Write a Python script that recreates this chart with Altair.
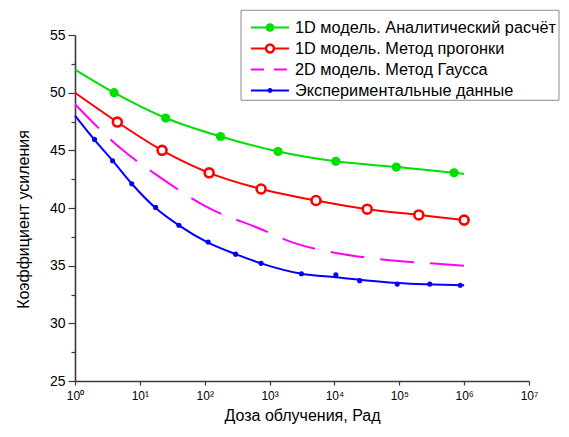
import altair as alt
import pandas as pd

# ---------------- data ----------------
SERIES = [
    "1D модель. Аналитический расчёт",
    "1D модель. Метод прогонки",
    "2D модель. Метод Гаусса",
    "Экспериментальные данные",
]
COLORS = ["#00e000", "#ff0000", "#ff00ff", "#0000ff"]

green_line_dose = [1, 4, 25, 175, 1350, 10500, 90000, 700000, 1000000]
green_line_gain = [52.0, 50.0, 47.8, 46.2, 44.9, 44.05, 43.55, 43.05, 42.95]
green_mark_dose = [4, 25, 175, 1350, 10500, 90000, 700000]
green_mark_gain = [50.0, 47.8, 46.2, 44.9, 44.05, 43.55, 43.05]

red_line_dose = [1, 4.5, 22, 117, 740, 5200, 32000, 200000, 1000000]
red_line_gain = [50.0, 47.45, 45.0, 43.05, 41.65, 40.65, 39.9, 39.4, 38.95]
red_mark_dose = [4.5, 22, 117, 740, 5200, 32000, 200000, 1000000]
red_mark_gain = [47.45, 45.0, 43.05, 41.65, 40.65, 39.9, 39.4, 38.95]

magenta_line_dose = [1, 5.5, 20, 107, 710, 2300, 8500, 45000, 300000, 1000000]
magenta_line_gain = [49.0, 45.0, 42.7, 40.1, 38.2, 37.0, 36.2, 35.6, 35.2, 35.0]

blue_line_dose = [1, 2, 3.8, 7.5, 17.5, 40, 113, 300, 740, 3100, 10500, 93000, 1000000]
blue_line_gain = [48.0, 45.9, 44.1, 42.1, 40.0, 38.5, 37.0, 36.0, 35.2, 34.3, 34.0, 33.5, 33.3]
blue_mark_dose = [2, 3.8, 7.5, 17.5, 40, 113, 300, 740, 3100, 10500, 24500, 93000, 295000, 870000]
blue_mark_gain = [45.95, 44.1, 42.1, 40.05, 38.5, 37.05, 36.0, 35.2, 34.3, 34.2, 33.7, 33.4, 33.4, 33.3]

X_TICKS = [1, 10, 100, 1000, 10000, 100000, 1000000, 10000000]
X_MINOR = [m * 10 ** k for k in range(7) for m in range(2, 10)]
Y_TICKS = [25, 30, 35, 40, 45, 50, 55]
Y_MINOR = [27.5, 32.5, 37.5, 42.5, 47.5, 52.5]

X_TITLE = "Доза облучения, Рад"
Y_TITLE = "Коэффициент усиления"

# ---------------- tables ----------------
def frame(name, xs, ys):
    return pd.DataFrame({"series": name, "dose": xs, "gain": ys})

solid_df = pd.concat([
    frame(SERIES[0], green_line_dose, green_line_gain),
    frame(SERIES[1], red_line_dose, red_line_gain),
    frame(SERIES[3], blue_line_dose, blue_line_gain),
])
dashed_df = frame(SERIES[2], magenta_line_dose, magenta_line_gain)
green_pts = frame(SERIES[0], green_mark_dose, green_mark_gain)
red_pts = frame(SERIES[1], red_mark_dose, red_mark_gain)
blue_pts = frame(SERIES[3], blue_mark_dose, blue_mark_gain)
legend_df = pd.DataFrame({"series": SERIES, "row": [0, 1, 2, 3]})

# ---------------- styling ----------------
W, H = 454, 346
FONT = "Liberation Sans"
AX = "#3a3a3a"

xscale = alt.Scale(type="log", domain=[1, 10000000], nice=False)
yscale = alt.Scale(domain=[25, 55], nice=False, zero=False)

x_main_axis = alt.Axis(
    values=X_TICKS, title=X_TITLE, orient="bottom", grid=False,
    labelExpr="'10' + ['⁰','¹','²','³','⁴','⁵','⁶','⁷'][round(log(datum.value) / LN10)]",
    labelFlush=False, labelOverlap=False, tickSize=4, labelPadding=5,
    labelFontSize=12, titleFontSize=16, titlePadding=6,
    domainColor=AX, domainWidth=1.6, tickColor=AX, tickWidth=1.2,
    labelColor="black", titleColor="black", titleFontWeight="normal",
)
y_main_axis = alt.Axis(
    values=Y_TICKS, title=Y_TITLE, orient="left", grid=False,
    tickSize=7, labelPadding=3, labelFontSize=14, titleFontSize=16, titlePadding=18,
    titleY=184,
    domainColor=AX, domainWidth=1.6, tickColor=AX, tickWidth=1.2,
    labelColor="black", titleColor="black", titleFontWeight="normal",
)
x_minor_axis = alt.Axis(
    values=X_MINOR, orient="top", position=H, labels=False, domain=False, grid=False,
    tickSize=4, tickColor=AX, tickWidth=1.2, title="",
)
y_minor_axis = alt.Axis(
    values=Y_MINOR, orient="left", labels=False, domain=False, grid=False,
    tickSize=4, tickColor=AX, tickWidth=1.2, title="",
)

# legend layout (pixels, relative to the plot area)
BOX_X0, BOX_X1, BOX_Y0, BOX_Y1 = 166, 484, -24.7, 65.3
SYM_X0, SYM_X1, SYM_CX, TXT_X = 176, 214, 195, 220
row_scale = alt.Scale(type="point", domain=[0, 1, 2, 3], range=[-7.5, 55.5], padding=0)
row_y = alt.Y("row:O", scale=row_scale, axis=None)

# ---------------- data layers ----------------
lines = alt.Chart(solid_df).mark_line(strokeWidth=2, interpolate="monotone").encode(
    x=alt.X("dose:Q", scale=xscale, axis=x_main_axis),
    y=alt.Y("gain:Q", scale=yscale, axis=y_main_axis),
    stroke=alt.Stroke("series:N", scale=alt.Scale(domain=SERIES, range=COLORS), legend=None),
)

dashed = alt.Chart(dashed_df).mark_line(
    strokeWidth=2, interpolate="monotone", strokeDash=[34, 16], color=COLORS[2]
).encode(
    x=alt.X("dose:Q", scale=xscale, axis=None),
    y=alt.Y("gain:Q", scale=yscale, axis=None),
)

green_marks = alt.Chart(green_pts).mark_point(
    filled=True, opacity=1, shape="circle", size=85, color=COLORS[0]
).encode(
    x=alt.X("dose:Q", scale=xscale, axis=x_minor_axis),
    y=alt.Y("gain:Q", scale=yscale, axis=y_minor_axis),
)

red_marks = alt.Chart(red_pts).mark_point(
    filled=False, opacity=1, shape="circle", size=80, strokeWidth=2.6,
    stroke=COLORS[1], fill="white",
).encode(
    x=alt.X("dose:Q", scale=xscale, axis=None),
    y=alt.Y("gain:Q", scale=yscale, axis=None),
)

blue_marks = alt.Chart(blue_pts).mark_point(
    filled=True, opacity=1, shape="circle", size=26, color=COLORS[3]
).encode(
    x=alt.X("dose:Q", scale=xscale, axis=None),
    y=alt.Y("gain:Q", scale=yscale, axis=None),
)

# ---------------- legend layers ----------------
leg_box = alt.Chart(legend_df.head(1)).mark_rect(
    fill="white", stroke="#8c8c8c", strokeWidth=1
).encode(
    x=alt.value(BOX_X0), x2=alt.value(BOX_X1),
    y=alt.value(BOX_Y0), y2=alt.value(BOX_Y1),
)

leg_lines = alt.Chart(legend_df).mark_rule(strokeWidth=2).encode(
    x=alt.value(SYM_X0), x2=alt.value(SYM_X1),
    y=row_y,
    color=alt.Color("series:N", scale=alt.Scale(domain=SERIES, range=COLORS), legend=None),
    strokeDash=alt.StrokeDash(
        "series:N",
        scale=alt.Scale(domain=SERIES, range=[[1, 0], [1, 0], [13, 10], [1, 0]]),
        legend=None,
    ),
)

leg_green = alt.Chart(legend_df).transform_filter("datum.row == 0").mark_point(
    filled=True, opacity=1, shape="circle", size=75, color=COLORS[0]
).encode(x=alt.value(SYM_CX), y=row_y)

leg_red = alt.Chart(legend_df).transform_filter("datum.row == 1").mark_point(
    filled=False, opacity=1, shape="circle", size=62, strokeWidth=2.4,
    stroke=COLORS[1], fill="white",
).encode(x=alt.value(SYM_CX), y=row_y)

leg_blue = alt.Chart(legend_df).transform_filter("datum.row == 3").mark_point(
    filled=True, opacity=1, shape="circle", size=24, color=COLORS[3]
).encode(x=alt.value(SYM_CX), y=row_y)

leg_text = alt.Chart(legend_df).mark_text(
    align="left", baseline="middle", fontSize=16.3, font=FONT, color="black"
).encode(x=alt.value(TXT_X), y=row_y, text="series:N")

chart = alt.layer(
    lines, dashed, green_marks, red_marks, blue_marks,
    leg_box, leg_lines, leg_green, leg_red, leg_blue, leg_text,
).resolve_axis(
    x="independent", y="independent"
).resolve_scale(
    y="independent"
).properties(
    width=W, height=H,
    autosize=alt.AutoSizeParams(type="none"),
    padding={"left": 67, "top": 27, "right": 32, "bottom": 44},
).configure(
    font=FONT,
).configure_view(
    strokeWidth=0,
)

chart.save("out.html", embed_options={"renderer": "svg", "actions": False})
